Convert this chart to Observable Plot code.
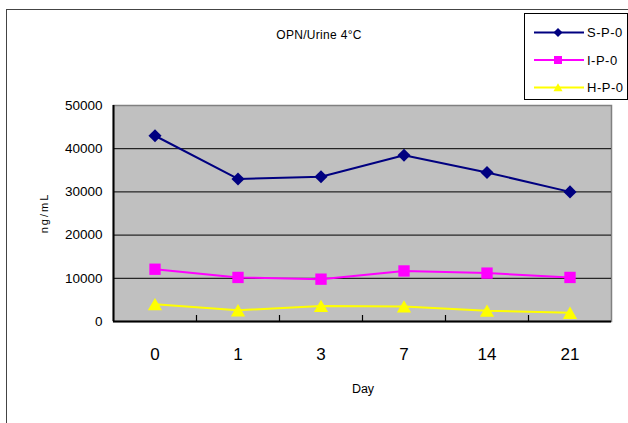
<!DOCTYPE html>
<html><head><meta charset="utf-8">
<script src="https://cdn.jsdelivr.net/npm/d3@7"></script>
<script src="https://cdn.jsdelivr.net/npm/@observablehq/plot@0.6"></script>
<style>
body{margin:0;background:#fff;font-family:"Liberation Sans",Arial,sans-serif;color:#000;}
#wrap{position:relative;width:628px;height:423px;overflow:hidden;}
#outer{position:absolute;left:6px;top:9px;width:700px;height:500px;border-left:1.5px solid #444;border-top:1.5px solid #444;}
#chart{position:absolute;left:0;top:0;}
.lbl{position:absolute;white-space:nowrap;transform:translate(-50%,-50%);}
#legend{position:absolute;left:524px;top:13px;width:102px;height:85px;border:1px solid #000;background:#fff;}
</style></head>
<body><div id="wrap"><div id="outer"></div><div id="chart"></div>
<div class="lbl" style="left:319px;top:35px;font-size:12px;letter-spacing:0.3px;">OPN/Urine 4°C</div>
<div class="lbl" style="left:363px;top:389px;font-size:12.5px;">Day</div>
<div class="lbl" style="left:44px;top:213px;font-size:11px;letter-spacing:2px;transform:translate(-50%,-50%) rotate(-90deg);">ng/mL</div>
<div id="legend"></div>
</div>
<script>
const days = ["0", "1", "3", "7", "14", "21"];
const seriesNames = ["S-P-0", "I-P-0", "H-P-0"];
const sValues = [43000, 33000, 33500, 38500, 34500, 30000];
const iValues = [12100, 10200, 9800, 11700, 11200, 10200];
const hValues = [4000, 2600, 3600, 3500, 2500, 2000];
const colors = ["#000080", "#FF00FF", "#FFFF00"];
const symbols = ["diamond2", "square", "triangle"];
const yTicks = [0, 10000, 20000, 30000, 40000, 50000];

const valuesBySeries = [sValues, iValues, hValues];
const rows = [];
seriesNames.forEach((s, k) => valuesBySeries[k].forEach((v, i) => rows.push({series: s, i, value: v})));
const idx = d3.range(days.length);
const boundaries = idx.slice(0, -1).map(i => i + 0.5);
const dotR = {"S-P-0": 5.9, "I-P-0": 6.4, "H-P-0": 5.3};
const dotDy = {"S-P-0": 0, "I-P-0": 0, "H-P-0": 2};

const chart = Plot.plot({
  width: 628, height: 423,
  marginLeft: 113, marginRight: 17, marginTop: 105, marginBottom: 102,
  style: {background: "transparent", color: "#000", fontFamily: "'Liberation Sans', Arial, sans-serif"},
  x: {type: "linear", domain: [-0.5, days.length - 0.5], axis: null},
  y: {domain: [0, 50000], axis: null},
  color: {domain: seriesNames, range: colors},
  symbol: {domain: seriesNames, range: symbols},
  marks: [
    Plot.frame({fill: "#C0C0C0", stroke: "#808080", strokeWidth: 1.5}),
    Plot.ruleY(yTicks.slice(1, -1), {stroke: "#000", strokeWidth: 1}),
    Plot.ruleX(boundaries, {x: d => d, y1: 0, y2: 0, insetBottom: 6, stroke: "#000", strokeWidth: 1.2}),
    Plot.ruleY([0], {stroke: "#000", strokeWidth: 2}),
    Plot.ruleX([-0.5], {stroke: "#000", strokeWidth: 2}),
    Plot.axisY(yTicks, {tickSize: 0, tickPadding: 11, fontSize: 13.5, tickFormat: d => String(d), label: null}),
    Plot.axisX(idx, {tickSize: 0, tickPadding: 26, fontSize: 17, tickFormat: i => days[i], label: null}),
    Plot.line(rows, {x: "i", y: "value", z: "series", stroke: "series", strokeWidth: 2}),
    ...seriesNames.map(s => Plot.dot(rows.filter(d => d.series === s), {
      x: "i", y: "value", symbol: "series", fill: "series", stroke: "none", r: dotR[s], dy: dotDy[s]
    }))
  ]
});
document.getElementById("chart").appendChild(chart);

// legend
const leg = d3.select("#legend").append("svg").attr("width", 102).attr("height", 85)
  .style("position", "absolute").style("left", 0).style("top", 0);
const legSym = [d3.symbolDiamond2, d3.symbolSquare, d3.symbolTriangle];
const legSize = [52, 64, 36];
seriesNames.forEach((s, k) => {
  const cy = 18.5 + k * 27.5;
  const g = leg.append("g");
  g.append("line").attr("x1", 9).attr("x2", 59).attr("y1", cy).attr("y2", cy)
    .attr("stroke", colors[k]).attr("stroke-width", 2);
  g.append("path").attr("d", d3.symbol(legSym[k], legSize[k])()).attr("transform", `translate(33,${cy + (k === 2 ? 1 : 0)})`)
    .attr("fill", colors[k]);
  g.append("text").attr("x", 62).attr("y", cy).attr("dy", "0.35em").attr("font-size", 13)
    .attr("letter-spacing", "0.5px").attr("font-family", "'Liberation Sans', Arial, sans-serif").text(s);
});
</script>
</body></html>
